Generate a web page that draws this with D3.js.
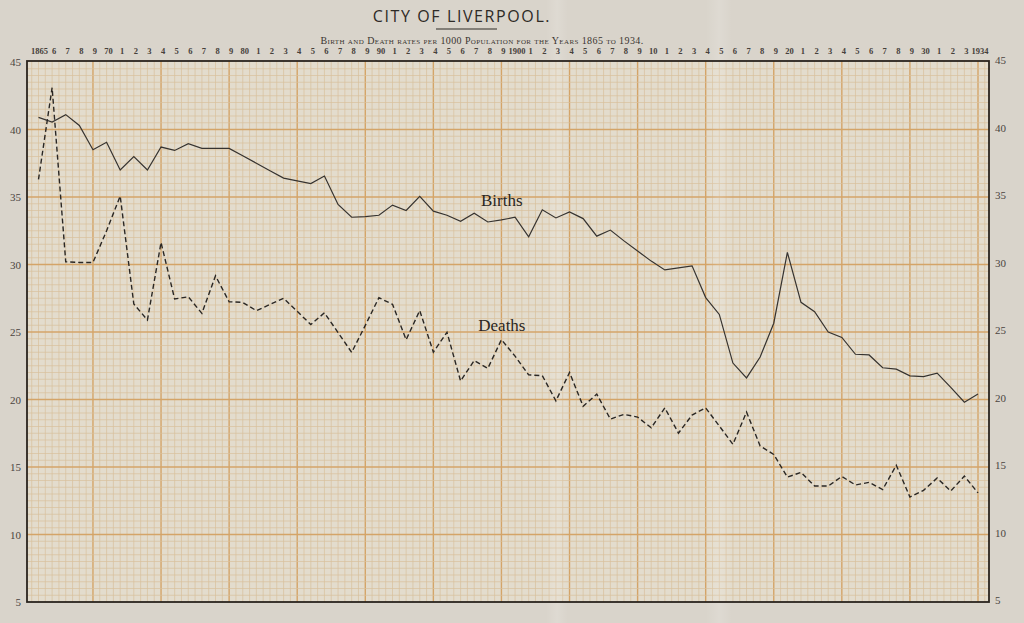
<!DOCTYPE html>
<html><head><meta charset="utf-8">
<script src="https://cdn.jsdelivr.net/npm/d3@7/dist/d3.min.js"></script>
<style>
html,body{margin:0;padding:0;background:#d9d4cb;}
svg{display:block;}
</style></head>
<body>
<svg id="c" width="1024" height="623"></svg>
<script>
// ---- data ----
const years = d3.range(1865, 1935);
const births = [40.9,40.55,41.1,40.3,38.5,39.05,37.0,38.0,37.0,38.7,
  38.45,38.95,38.6,38.6,38.6,38.05,37.5,36.95,36.4,36.2,
  36.0,36.55,34.45,33.5,33.55,33.65,34.4,34.0,35.05,33.95,
  33.65,33.2,33.8,33.15,33.3,33.5,32.05,34.05,33.45,33.9,
  33.4,32.1,32.55,31.75,31.0,30.25,29.6,29.75,29.9,27.55,
  26.3,22.7,21.6,23.15,25.65,30.9,27.2,26.5,25.0,24.6,
  23.35,23.3,22.35,22.25,21.75,21.7,21.95,20.9,19.8,20.4];
const deaths = [36.3,43.1,30.2,30.15,30.15,32.5,35.07,27.07,25.89,31.63,
  27.44,27.61,26.38,29.16,27.24,27.19,26.58,27.04,27.5,26.53,
  25.55,26.42,24.96,23.49,25.49,27.54,27.05,24.43,26.59,23.51,
  24.98,21.37,22.89,22.31,24.43,23.21,21.82,21.77,19.9,22.0,
  19.5,20.4,18.55,18.9,18.7,17.9,19.38,17.51,18.85,19.38,
  18.04,16.68,19.07,16.56,15.93,14.25,14.6,13.59,13.59,14.3,
  13.67,13.86,13.33,15.13,12.77,13.27,14.18,13.22,14.33,13.08];
const yearTickLabels = ["1865","6","7","8","9","70","1","2","3","4","5","6","7","8","9",
  "80","1","2","3","4","5","6","7","8","9","90","1","2","3","4","5","6","7","8","9",
  "1900","1","2","3","4","5","6","7","8","9","10","1","2","3","4","5","6","7","8","9",
  "20","1","2","3","4","5","6","7","8","9","30","1","2","3","1934"];
const rateTicks = [45,40,35,30,25,20,15,10,5];
const titleText = "CITY OF LIVERPOOL.";
const subtitleText = "Birth and Death rates per 1000 Population for the Years 1865 to 1934.";
const seriesLabels = [
  {name:"Births", year:1897.5, value:34.3},
  {name:"Deaths", year:1897.3, value:25.1}
];

// ---- layout ----
const svg = d3.select("#c");
const x = d3.scaleLinear().domain([1865, 1934]).range([38.5, 978]);
const y = d3.scaleLinear().domain([5, 45]).range([602, 62]);
const frameL = 27, frameR = 989, frameT = 61, frameB = 602;

// soft fold gradient
const defs = svg.append("defs");
const g = defs.append("linearGradient").attr("id", "fold").attr("x1", "0").attr("x2", "1");
g.append("stop").attr("offset", "0").attr("stop-color", "#fff").attr("stop-opacity", 0);
g.append("stop").attr("offset", "0.5").attr("stop-color", "#fff").attr("stop-opacity", 0.14);
g.append("stop").attr("offset", "1").attr("stop-color", "#fff").attr("stop-opacity", 0);

// plot paper
svg.append("rect").attr("x", frameL).attr("y", frameT)
  .attr("width", frameR - frameL).attr("height", frameB - frameT)
  .attr("fill", "#e3dccd");

const grid = svg.append("g");
const vLines = d3.range(1864.5, 1935, 0.5).filter(t => x(t) > frameL + 1 && x(t) < frameR - 1);
vLines.forEach(t => {
  const major = Math.abs(((t - 1869) % 5 + 5) % 5) < 1e-6;
  grid.append("line").attr("x1", x(t)).attr("x2", x(t)).attr("y1", frameT).attr("y2", frameB)
    .attr("stroke", major ? "#d4a468" : "#d8c09c")
    .attr("stroke-width", major ? 1.4 : 0.7);
});
const hLines = d3.range(5.5, 45, 0.5);
hLines.forEach(v => {
  const major = Math.abs(v % 5) < 1e-6;
  grid.append("line").attr("x1", frameL).attr("x2", frameR).attr("y1", y(v)).attr("y2", y(v))
    .attr("stroke", major ? "#d4a468" : "#d8c09c")
    .attr("stroke-width", major ? 1.4 : 0.7);
});

// fold bands of the photographed sheet
[[546, 22], [706, 26]].forEach(([fx, fw]) => {
  svg.append("rect").attr("x", fx).attr("y", 0).attr("width", fw).attr("height", 623)
    .attr("fill", "url(#fold)");
});

// frame
svg.append("rect").attr("x", frameL).attr("y", frameT)
  .attr("width", frameR - frameL).attr("height", frameB - frameT)
  .attr("fill", "none").attr("stroke", "#2a241e").attr("stroke-width", 1.8);

// lines
const line = d3.line().x((d, i) => x(years[i])).y(d => y(d));
svg.append("path").datum(births).attr("d", line)
  .attr("fill", "none").attr("stroke", "#363330").attr("stroke-width", 1.2);
svg.append("path").datum(deaths).attr("d", line)
  .attr("fill", "none").attr("stroke", "#2a2724").attr("stroke-width", 1.4)
  .attr("stroke-dasharray", "5,3");

// series labels
svg.selectAll("text.sl").data(seriesLabels).enter().append("text")
  .attr("class", "sl")
  .attr("x", d => x(d.year)).attr("y", d => y(d.value))
  .attr("font-family", "'Liberation Serif', 'DejaVu Serif', serif")
  .attr("font-size", 17).attr("fill", "#2a2622")
  .text(d => d.name);

// top year labels
svg.append("g").selectAll("text").data(yearTickLabels).enter().append("text")
  .attr("x", (d, i) => i === 0 ? x(years[i]) + 1 : x(years[i]) + 2).attr("y", 54)
  .attr("text-anchor", "middle")
  .attr("font-family", "'Liberation Serif', 'DejaVu Serif', serif")
  .attr("font-size", 8.5).attr("font-weight", "bold").attr("fill", "#46403a")
  .text(d => d);

// left & right rate labels
svg.append("g").selectAll("text").data(rateTicks).enter().append("text")
  .attr("x", 21).attr("y", d => y(d) + 4)
  .attr("text-anchor", "end")
  .attr("font-family", "'Liberation Serif', 'DejaVu Serif', serif")
  .attr("font-size", 11).attr("fill", "#4a453f")
  .text(d => d);
svg.append("g").selectAll("text").data(rateTicks).enter().append("text")
  .attr("x", 995).attr("y", d => y(d) + 2)
  .attr("text-anchor", "start")
  .attr("font-family", "'Liberation Serif', 'DejaVu Serif', serif")
  .attr("font-size", 11).attr("fill", "#4a453f")
  .text(d => d);

// title
svg.append("text").attr("x", 462).attr("y", 22).attr("text-anchor", "middle")
  .attr("font-family", "'Open Sans', 'DejaVu Sans', sans-serif")
  .attr("font-size", 16).attr("letter-spacing", 1.6).attr("fill", "#2e2a26")
  .text(titleText);
svg.append("line").attr("x1", 436).attr("x2", 497).attr("y1", 29).attr("y2", 29)
  .attr("stroke", "#2e2a26").attr("stroke-width", 1.2);
svg.append("text").attr("x", 482).attr("y", 44).attr("text-anchor", "middle")
  .attr("font-family", "'Liberation Serif', 'DejaVu Serif', serif")
  .attr("font-size", 10).attr("letter-spacing", 0.4)
  .attr("font-variant", "small-caps").attr("fill", "#3a3530")
  .text(subtitleText);
</script>
</body></html>
